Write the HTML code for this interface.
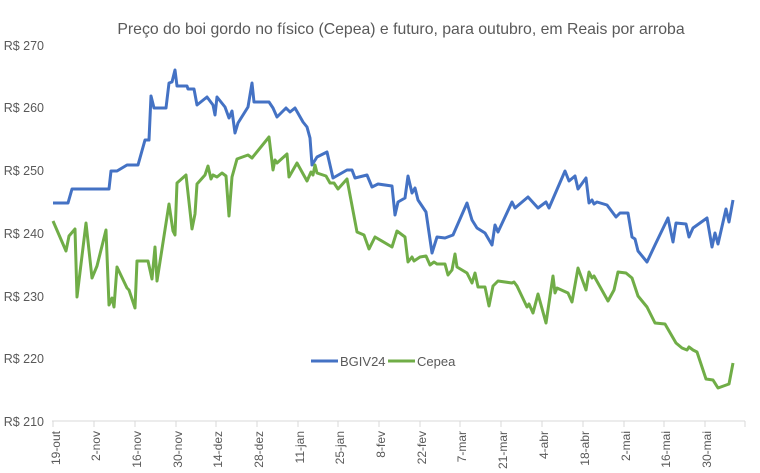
<!DOCTYPE html>
<html><head><meta charset="utf-8"><style>
html,body{margin:0;padding:0;background:#fff;}
svg{display:block;font-family:"Liberation Sans",sans-serif;}
</style></head><body>
<svg width="760" height="473" viewBox="0 0 760 473" xmlns="http://www.w3.org/2000/svg">
<text x="401" y="34" text-anchor="middle" font-size="15.8" fill="#595959">Preço do boi gordo no físico (Cepea) e futuro, para outubro, em Reais por arroba</text>
<g font-size="12.5" fill="#595959" text-anchor="end">
<text x="44" y="50">R$ 270</text>
<text x="44" y="112">R$ 260</text>
<text x="44" y="175">R$ 250</text>
<text x="44" y="238">R$ 240</text>
<text x="44" y="301">R$ 230</text>
<text x="44" y="363">R$ 220</text>
<text x="44" y="426">R$ 210</text>
</g>
<line x1="52" y1="421" x2="745" y2="421" stroke="#d9d9d9" stroke-width="1"/>
<g stroke="#d9d9d9" stroke-width="1">
<line x1="53" y1="421" x2="53" y2="427"/><line x1="94" y1="421" x2="94" y2="427"/><line x1="135" y1="421" x2="135" y2="427"/><line x1="176" y1="421" x2="176" y2="427"/><line x1="216" y1="421" x2="216" y2="427"/><line x1="257" y1="421" x2="257" y2="427"/><line x1="298" y1="421" x2="298" y2="427"/><line x1="338" y1="421" x2="338" y2="427"/><line x1="379" y1="421" x2="379" y2="427"/><line x1="420" y1="421" x2="420" y2="427"/><line x1="460" y1="421" x2="460" y2="427"/><line x1="501" y1="421" x2="501" y2="427"/><line x1="542" y1="421" x2="542" y2="427"/><line x1="583" y1="421" x2="583" y2="427"/><line x1="624" y1="421" x2="624" y2="427"/><line x1="664" y1="421" x2="664" y2="427"/><line x1="705" y1="421" x2="705" y2="427"/><line x1="745" y1="421" x2="745" y2="427"/>
</g>
<g font-size="12" fill="#595959" text-anchor="end">
<text transform="translate(60,431) rotate(-90)">19-out</text>
<text transform="translate(100,431) rotate(-90)">2-nov</text>
<text transform="translate(141,431) rotate(-90)">16-nov</text>
<text transform="translate(182,431) rotate(-90)">30-nov</text>
<text transform="translate(222,431) rotate(-90)">14-dez</text>
<text transform="translate(263,431) rotate(-90)">28-dez</text>
<text transform="translate(304,431) rotate(-90)">11-jan</text>
<text transform="translate(344,431) rotate(-90)">25-jan</text>
<text transform="translate(385,431) rotate(-90)">8-fev</text>
<text transform="translate(426,431) rotate(-90)">22-fev</text>
<text transform="translate(466,431) rotate(-90)">7-mar</text>
<text transform="translate(507,431) rotate(-90)">21-mar</text>
<text transform="translate(548,431) rotate(-90)">4-abr</text>
<text transform="translate(589,431) rotate(-90)">18-abr</text>
<text transform="translate(630,431) rotate(-90)">2-mai</text>
<text transform="translate(670,431) rotate(-90)">16-mai</text>
<text transform="translate(711,431) rotate(-90)">30-mai</text>
</g>
<polyline fill="none" stroke="#4472c4" stroke-width="3" stroke-linejoin="round" points="53,203 68,203 72,189 109,189 111,171 117,171 127,165 138,165 145,140 149,140 151,96 154,108 166,108 169,83 172,82 175,70 177,86 187,86 188,89 194,89 197,105 207,97 213,105 215,115 217,97 225,107 229,118 232,111 235,133 238,123 248,107 252,83 254,102 269,102 273,108 277,117 286,108 290,112 295,108 303,122 307,127 310,138 312,165 317,157 327,152 333,178 347,170 352,170 355,178 367,175 372,187 378,184 392,186 395,215 398,202 405,198 408,176 412,193 415,188 418,200 426,212 432,253 437,237 445,238 453,235 467,203 472,220 477,228 485,233 492,245 495,225 498,232 512,202 515,208 528,197 538,208 546,202 549,208 565,171 569,181 575,176 578,189 586,178 589,203 592,200 594,204 597,202 607,205 616,217 620,213 628,213 632,237 635,239 638,251 647,262 655,245 668,218 673,242 676,223 686,224 689,237 693,228 707,218 712,247 715,233 718,244 726,209 729,222 733,200"/>
<polyline fill="none" stroke="#70ad47" stroke-width="3" stroke-linejoin="round" points="53,221 66,251 69,236 75,229 77,297 86,223 92,278 97,266 106,230 109,305 112,298 114,307 117,267 127,288 129,290 135,308 137,261 148,261 152,279 155,247 157,281 169,204 173,231 175,235 177,183 186,175 192,229 195,214 197,184 205,175 208,166 211,179 213,175 217,177 222,173 226,176 229,216 232,177 237,159 248,155 252,158 269,137 273,170 275,160 277,163 287,154 289,177 297,163 307,181 311,172 313,175 315,165 317,173 326,176 330,183 334,183 338,189 347,179 357,232 364,235 369,249 375,237 392,247 397,231 405,237 408,262 412,257 414,261 420,257 426,256 430,265 434,262 437,264 445,264 448,275 452,270 455,254 457,267 467,273 472,283 475,273 478,287 485,287 489,306 493,286 498,281 512,283 514,282 517,286 527,307 529,304 533,313 538,294 546,323 553,276 555,293 557,288 568,293 572,302 578,268 586,290 589,272 592,278 594,276 608,301 614,290 618,272 626,273 632,278 638,296 647,307 655,323 665,324 676,343 682,348 687,350 689,347 693,350 697,352 706,379 713,380 718,388 729,384 733,363"/>
<line x1="311" y1="361" x2="338" y2="361" stroke="#4472c4" stroke-width="3"/>
<text x="340" y="366" font-size="13" fill="#595959">BGIV24</text>
<line x1="388" y1="361" x2="415" y2="361" stroke="#70ad47" stroke-width="3"/>
<text x="417" y="366" font-size="13" fill="#595959">Cepea</text>
</svg>
</body></html>
